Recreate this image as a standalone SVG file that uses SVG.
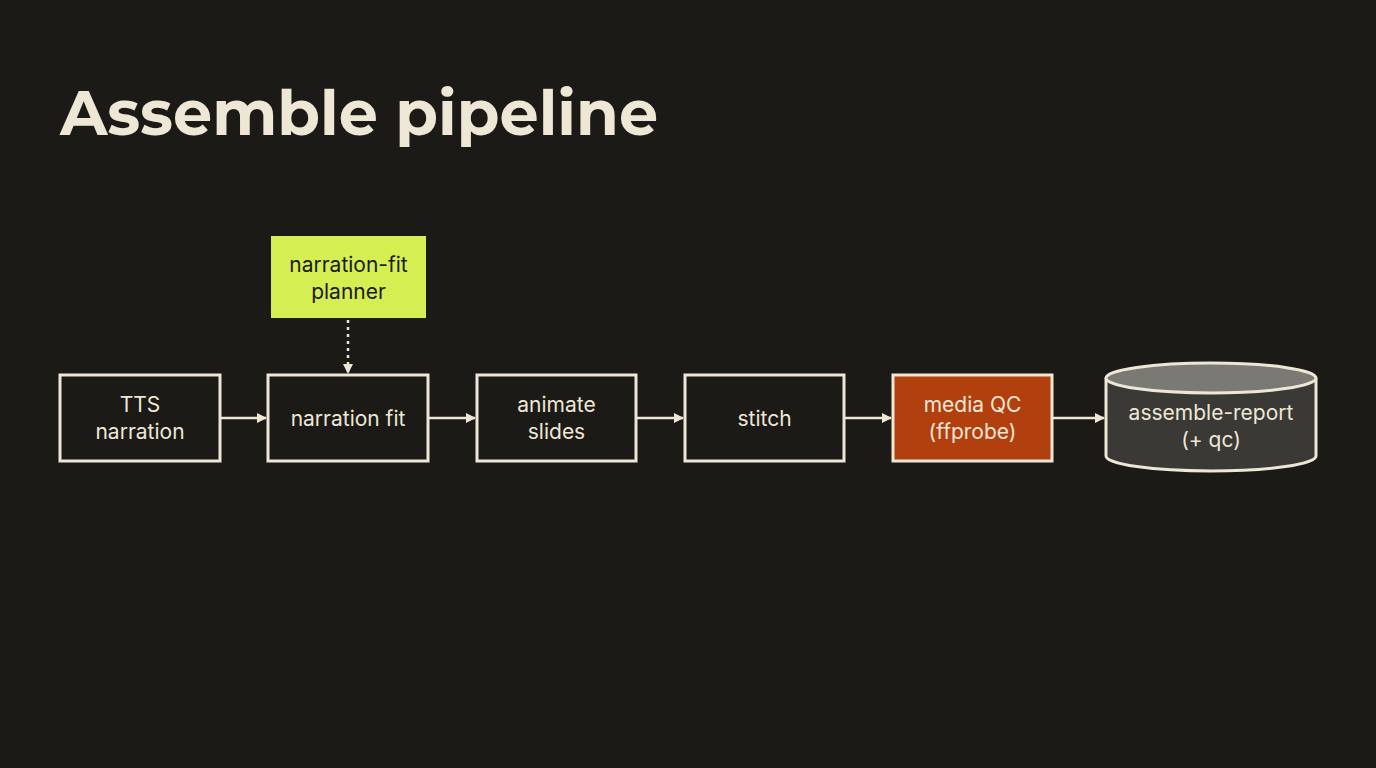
<svg xmlns="http://www.w3.org/2000/svg" width="1376" height="768" viewBox="0 0 1376 768">
<style>
.box{fill:#1b1a17;stroke:#efe7d6;stroke-width:3}
.t{font-family:Inter,"Noto Sans","Liberation Sans",sans-serif;font-size:21px;fill:#efe7d6;text-anchor:middle}
.c{stroke:#efe7d6;stroke-width:2.5;fill:none}
</style>
<defs><marker id="a" markerWidth="10" markerHeight="10" refX="9" refY="5" orient="auto" markerUnits="userSpaceOnUse" viewBox="0 0 10 10"><path d="M0,0L10,5L0,10z" fill="#efe7d6"/></marker></defs>
<rect width="1376" height="768" fill="#1b1a17"/>
<text x="60" y="135" font-family="Montserrat,Inter,'Noto Sans',sans-serif" font-weight="700" font-size="62" fill="#efe7d6">Assemble pipeline</text>
<g id="planner"><rect x="271" y="236" width="155" height="82" fill="#d5ef52"/><text class="t" x="348.5" y="272" style="fill:#1b1a17">narration-fit</text><text class="t" x="348.5" y="299" style="fill:#1b1a17">planner</text></g>
<g id="tts"><rect class="box" x="60" y="375" width="160" height="86"/><text class="t" x="140" y="412">TTS</text><text class="t" x="140" y="439">narration</text></g>
<g id="fit"><rect class="box" x="268" y="375" width="160" height="86"/><text class="t" x="348" y="426">narration fit</text></g>
<g id="animate"><rect class="box" x="477" y="375" width="159" height="86"/><text class="t" x="556.5" y="412">animate</text><text class="t" x="556.5" y="439">slides</text></g>
<g id="stitch"><rect class="box" x="685" y="375" width="159" height="86"/><text class="t" x="764.5" y="426">stitch</text></g>
<g id="qc"><rect x="893" y="375" width="159" height="86" fill="#b2400f" stroke="#efe7d6" stroke-width="3"/><text class="t" x="972.5" y="412">media QC</text><text class="t" x="972.5" y="439">(ffprobe)</text></g>
<g id="report"><path d="M1106,378 V456 A105,15 0 0 0 1316,456 V378" fill="#3a3935" stroke="#efe7d6" stroke-width="3"/><ellipse cx="1211" cy="378" rx="105" ry="15" fill="#7a7974" stroke="#efe7d6" stroke-width="3"/><text class="t" x="1211" y="420">assemble-report</text><text class="t" x="1211" y="447">(+ qc)</text></g>
<g id="connectors">
<path class="c" d="M348,320 V373" stroke-dasharray="3,4" marker-end="url(#a)"/>
<path class="c" d="M221,418 H266" marker-end="url(#a)"/>
<path class="c" d="M429,418 H475" marker-end="url(#a)"/>
<path class="c" d="M637,418 H683" marker-end="url(#a)"/>
<path class="c" d="M845,418 H891" marker-end="url(#a)"/>
<path class="c" d="M1053,418 H1104" marker-end="url(#a)"/>
</g>
</svg>
